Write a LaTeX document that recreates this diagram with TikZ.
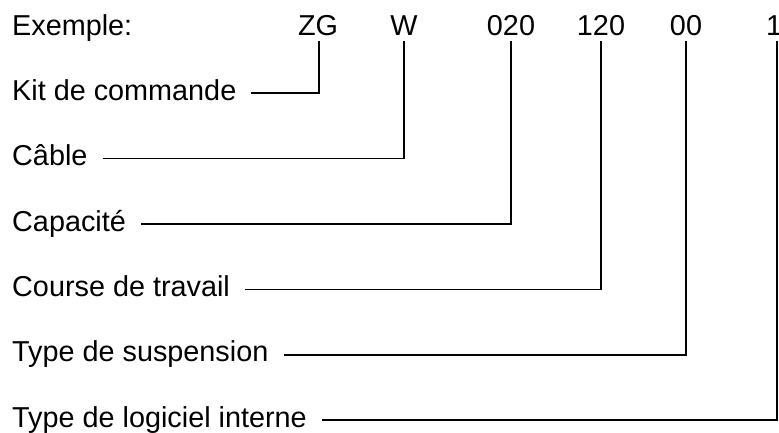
\documentclass[tikz,border=0pt]{standalone}
\usepackage{fontspec}
\setmainfont{Liberation Sans}
\begin{document}
\begin{tikzpicture}[x=1pt,y=-1pt,
  txt/.style={font=\fontsize{28.8}{32}\selectfont, inner sep=0pt, text=black},
  tok/.style={txt, anchor=base, inner ysep=6pt},
  lab/.style={txt, anchor=base west},
  lead/.style={draw=black, line width=1.6pt}]
\useasboundingbox[fill=white] (0,0) rectangle (779,432);
% top row
\node[lab] (ex) at (12,35) {Exemple:};
\node[tok] (t1) at (318,35) {ZG};
\node[tok] (t2) at (404,35) {W};
\node[tok] (t3) at (511,35) {020};
\node[tok] (t4) at (601,35) {120};
\node[tok] (t5) at (686,35) {00};
\node[tok] (t6) at (774,35) {1};
% labels
\node[lab] (l1) at (12,100.2) {Kit de commande};
\node[lab] (l2) at (12,165.6) {Câble};
\node[lab] (l3) at (12,231) {Capacité};
\node[lab] (l4) at (12,296.4) {Course de travail};
\node[lab] (l5) at (12,361.8) {Type de suspension};
\node[lab] (l6) at (12,427.2) {Type de logiciel interne};
% leaders
\draw[lead] ([shift={(14pt,7pt)}]l1.base east) -| ([xshift=1pt]t1.south);
\draw[lead] ([shift={(15pt,7pt)}]l2.base east) -| (t2.south);
\draw[lead] ([shift={(15pt,7pt)}]l3.base east) -| (t3.south);
\draw[lead] ([shift={(15pt,7pt)}]l4.base east) -| (t4.south);
\draw[lead] ([shift={(15pt,7pt)}]l5.base east) -| (t5.south);
\draw[lead] ([shift={(15pt,7pt)}]l6.base east) -| ([xshift=3pt]t6.south);
\end{tikzpicture}
\end{document}
